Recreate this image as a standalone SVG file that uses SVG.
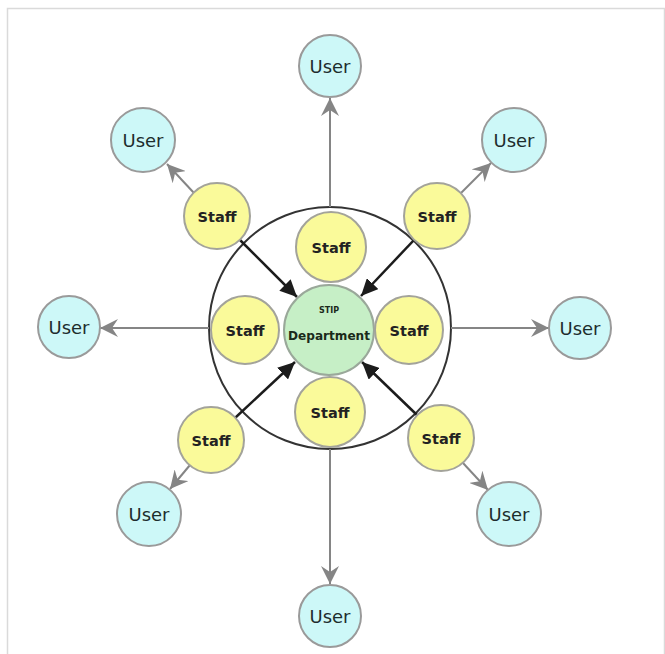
<svg xmlns="http://www.w3.org/2000/svg" width="665" height="654" viewBox="0 0 665 654">
  <style>
    .user circle { fill: #cdf8f8; stroke: #9a9a9a; stroke-width: 2; }
    .staff circle { fill: #fafa9a; stroke: #a3a39a; stroke-width: 2; }
    .dept circle { fill: #c6efc6; stroke: #9aa89a; stroke-width: 2; }
    .user text { font-family: "DejaVu Sans", sans-serif; font-size: 18px; fill: #1d2d2d; text-anchor: middle; }
    .staff text { font-family: "DejaVu Sans", sans-serif; font-weight: bold; font-size: 14.5px; fill: #222; text-anchor: middle; }
    .dept text { font-family: "DejaVu Sans", sans-serif; font-weight: bold; fill: #1a2a1a; text-anchor: middle; }
    .out { stroke: #858585; stroke-width: 2; fill: none; marker-end: url(#grayHead); }
    .in { stroke: #1c1c1c; stroke-width: 2.5; fill: none; marker-end: url(#blackHead); }
  </style>
  <defs>
    <marker id="grayHead" markerUnits="userSpaceOnUse" markerWidth="20" markerHeight="18" refX="18" refY="9" orient="auto">
      <path d="M0,0 L18,9 L0,18 L6,9 z" fill="#858585"/>
    </marker>
    <marker id="blackHead" markerUnits="userSpaceOnUse" markerWidth="18" markerHeight="16" refX="17" refY="8" orient="auto">
      <path d="M0,0 L17,8 L0,16 z" fill="#1c1c1c"/>
    </marker>
  </defs>

  <rect width="665" height="654" fill="#ffffff"/>
  <!-- page frame -->
  <path d="M7.5,654 V8.5 H664.5 V654" fill="none" stroke="#dadada" stroke-width="1.5"/>

  <!-- department boundary ring -->
  <circle id="boundary" cx="330" cy="328" r="121" fill="none" stroke="#333" stroke-width="2"/>

  <g id="connectors">
    <!-- outward reach to users -->
    <line class="out" x1="330" y1="207" x2="330" y2="98"/>
    <line class="out" x1="209" y1="328" x2="100" y2="328"/>
    <line class="out" x1="451" y1="328" x2="549" y2="328"/>
    <line class="out" x1="330" y1="449" x2="330" y2="584"/>
    <line class="out" x1="194" y1="193" x2="167" y2="164"/>
    <line class="out" x1="461" y1="193" x2="491" y2="163"/>
    <line class="out" x1="190" y1="465" x2="170" y2="489"/>
    <line class="out" x1="463" y1="463" x2="488" y2="490"/>
    <!-- staff feeding the department -->
    <line class="in" x1="240" y1="240" x2="297" y2="297"/>
    <line class="in" x1="414" y1="240" x2="361" y2="296"/>
    <line class="in" x1="235" y1="418" x2="295" y2="362"/>
    <line class="in" x1="417" y1="415" x2="362" y2="362"/>
  </g>

  <g id="dept" class="dept">
    <circle cx="329" cy="330" r="45"/>
    <text x="329" y="313" font-size="8">STIP</text>
    <text x="329" y="340" font-size="12.5" textLength="82" lengthAdjust="spacingAndGlyphs">Department</text>
  </g>

  <g id="staff-in-top" class="staff"><circle cx="331" cy="247" r="35"/><text x="331" y="253">Staff</text></g>
  <g id="staff-in-left" class="staff"><circle cx="245" cy="330" r="34"/><text x="245" y="336">Staff</text></g>
  <g id="staff-in-right" class="staff"><circle cx="409" cy="330" r="34"/><text x="409" y="336">Staff</text></g>
  <g id="staff-in-bottom" class="staff"><circle cx="330" cy="412" r="35"/><text x="330" y="418">Staff</text></g>

  <g id="staff-out-tl" class="staff"><circle cx="217" cy="216" r="33"/><text x="217" y="222">Staff</text></g>
  <g id="staff-out-tr" class="staff"><circle cx="437" cy="216" r="33"/><text x="437" y="222">Staff</text></g>
  <g id="staff-out-bl" class="staff"><circle cx="211" cy="440" r="33"/><text x="211" y="446">Staff</text></g>
  <g id="staff-out-br" class="staff"><circle cx="441" cy="438" r="33"/><text x="441" y="444">Staff</text></g>

  <g id="user-top" class="user"><circle cx="330" cy="66" r="31"/><text x="330" y="73">User</text></g>
  <g id="user-tl" class="user"><circle cx="143" cy="140" r="32"/><text x="143" y="147">User</text></g>
  <g id="user-tr" class="user"><circle cx="514" cy="140" r="32"/><text x="514" y="147">User</text></g>
  <g id="user-left" class="user"><circle cx="69" cy="327" r="31"/><text x="69" y="334">User</text></g>
  <g id="user-right" class="user"><circle cx="580" cy="328" r="31"/><text x="580" y="335">User</text></g>
  <g id="user-bl" class="user"><circle cx="149" cy="514" r="32"/><text x="149" y="521">User</text></g>
  <g id="user-br" class="user"><circle cx="509" cy="514" r="32"/><text x="509" y="521">User</text></g>
  <g id="user-bottom" class="user"><circle cx="330" cy="616" r="31"/><text x="330" y="623">User</text></g>
</svg>
